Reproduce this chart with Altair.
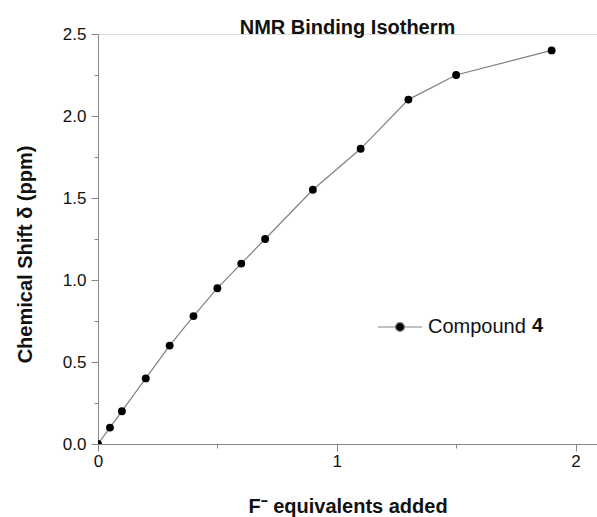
import altair as alt
import pandas as pd

# ---- data ----
equiv = [0, 0.05, 0.1, 0.2, 0.3, 0.4, 0.5, 0.6, 0.7, 0.9, 1.1, 1.3, 1.5, 1.9]
shift = [0, 0.10, 0.20, 0.40, 0.60, 0.78, 0.95, 1.10, 1.25, 1.55, 1.80, 2.10, 2.25, 2.40]
series_name = "Compound"
x_ticks = [0, 0.5, 1, 1.5, 2]
y_ticks = [0, 0.25, 0.5, 0.75, 1.0, 1.25, 1.5, 1.75, 2.0, 2.25, 2.5]

df = pd.DataFrame({"equiv": equiv, "shift": shift, "series": [series_name] * len(equiv)})

FONT = "Liberation Sans"
INK = "#111111"
AXIS = "#333333"

xscale = alt.Scale(domain=[0, 2.09], nice=False, zero=False)
yscale = alt.Scale(domain=[0, 2.5], nice=False)

xaxis = alt.Axis(
    values=x_ticks,
    labelExpr="datum.value % 1 === 0 ? format(datum.value, 'd') : ''",
    tickSize={"condition": {"test": "datum.value % 1 !== 0", "value": 4}, "value": 7},
    labelOverlap=False, labelFlush=False, grid=False,
    labelFontSize=17, labelFont=FONT, labelColor=INK, labelPadding=2,
    title="F\u207B equivalents added", titleFont=FONT, titleFontSize=20,
    titleFontWeight="bold", titleColor=INK,
    titleX=249.5, titleY=68, titleBaseline="alphabetic",
)
yaxis = alt.Axis(
    values=y_ticks,
    labelExpr="datum.value % 0.5 === 0 ? format(datum.value, '.1f') : ''",
    tickSize={"condition": {"test": "datum.value % 0.5 !== 0", "value": 4}, "value": 7},
    labelOverlap=False, labelFlush=False, grid=False,
    labelFontSize=17, labelFont=FONT, labelColor=INK, labelPadding=5,
    title="Chemical Shift \u03B4 (ppm)", titleFont=FONT, titleFontSize=20,
    titleFontWeight="bold", titleColor=INK,
    titleX=-67, titleY=220, titleBaseline="alphabetic", titleAlign="center",
)

legend_symbol = ("M-1,0L-0.2,0M0.2,0L1,0"
                 "M0.2,0A0.2,0.2,0,1,1,-0.2,0A0.2,0.2,0,1,1,0.2,0Z")

line = alt.Chart(df).mark_line(color="#808080", strokeWidth=1.2, clip=True).encode(
    x=alt.X("equiv:Q", scale=xscale, axis=xaxis),
    y=alt.Y("shift:Q", scale=yscale, axis=yaxis),
)

points = alt.Chart(df).mark_circle(size=62, opacity=1, clip=True).encode(
    x=alt.X("equiv:Q", scale=xscale),
    y=alt.Y("shift:Q", scale=yscale),
    color=alt.Color(
        "series:N",
        scale=alt.Scale(range=["black"]),
        legend=alt.Legend(
            orient="none", legendX=279, legendY=270, padding=0,
            symbolType=legend_symbol, symbolSize=1936,
            symbolStrokeColor="#808080", symbolStrokeWidth=1.2, symbolOpacity=1,
            labelFont=FONT, labelFontSize=20, labelColor=INK, labelOffset=5,
            title="4", titleOrient="right", titleFont=FONT, titleFontSize=20,
            titleFontWeight="bold", titleColor=INK, titlePadding=6,
            titleAnchor="middle", titleBaseline="line-top", titleLineHeight=10,
        ),
    ),
)

chart = alt.layer(line, points).properties(
    width=499, height=410,
    title=alt.TitleParams("NMR Binding Isotherm", font=FONT, fontSize=20,
                          fontWeight="bold", color=INK, anchor="middle",
                          baseline="alphabetic", offset=0, dy=29),
    autosize=alt.AutoSizeParams(type="none"),
    padding={"left": 98, "top": 34, "right": 0, "bottom": 73},
).configure_view(stroke=None).configure_axis(
    domainColor=AXIS, domainWidth=1.5, tickColor=AXIS, tickWidth=1.5,
).configure(background="white")

chart.save("out.html", embed_options={"renderer": "svg", "actions": False})
